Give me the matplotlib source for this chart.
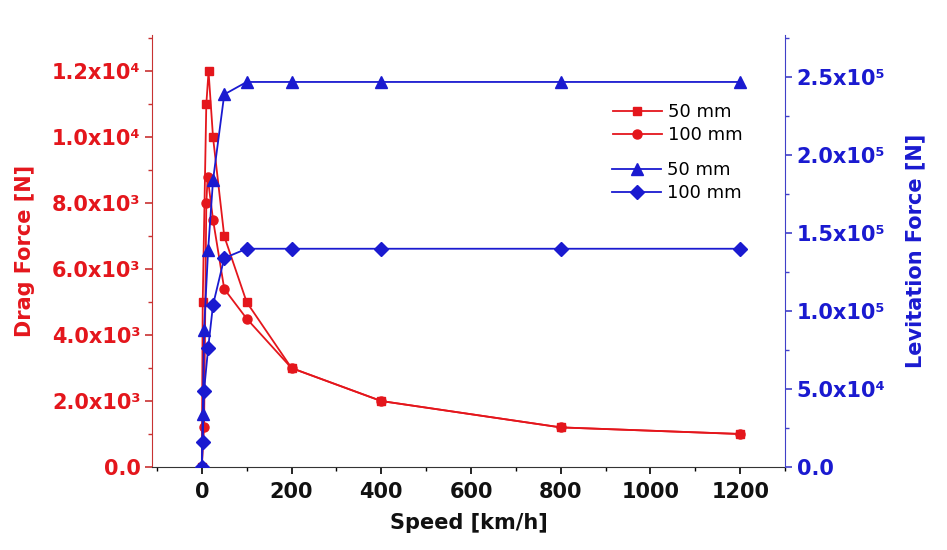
import matplotlib.pyplot as plt
from matplotlib.ticker import FixedLocator, MultipleLocator

plt.rcParams['font.family'] = ['DejaVu Sans']

# drag force data (left axis)
drag_speed_50 = [0, 2, 10, 15, 25, 50, 100, 200, 400, 800, 1200]
drag_50 = [0, 5000, 11000, 12000, 10000, 7000, 5000, 3000, 2000, 1200, 1000]
drag_speed_100 = [0, 5, 10, 13, 25, 50, 100, 200, 400, 800, 1200]
drag_100 = [0, 1200, 8000, 8800, 7500, 5400, 4500, 3000, 2000, 1200, 1000]

# levitation force data (right axis)
lev_speed_50 = [0, 2, 5, 14, 25, 50, 100, 200, 400, 800, 1200]
lev_50 = [0, 34000, 88000, 139000, 184000, 239000, 247000, 247000, 247000, 247000, 247000]
lev_speed_100 = [0, 2, 5, 14, 25, 50, 100, 200, 400, 800, 1200]
lev_100 = [0, 16000, 49000, 76000, 104000, 134000, 140000, 140000, 140000, 140000, 140000]

left_ticks = [0, 2000, 4000, 6000, 8000, 10000, 12000]
left_labels = ['0.0', '2.0x10³', '4.0x10³', '6.0x10³', '8.0x10³', '1.0x10⁴', '1.2x10⁴']
right_ticks = [0, 50000, 100000, 150000, 200000, 250000]
right_labels = ['0.0', '5.0x10⁴', '1.0x10⁵', '1.5x10⁵', '2.0x10⁵', '2.5x10⁵']
x_ticks = [0, 200, 400, 600, 800, 1000, 1200]

RED = '#e4161c'
BLUE = '#1a1ad0'

fig = plt.figure(figsize=(9.47, 5.5), dpi=100)
ax = fig.add_axes([0.161, 0.151, 0.668, 0.785])
ax2 = ax.twinx()

l1, = ax.plot(drag_speed_50, drag_50, color=RED, marker='s', markersize=6, lw=1.3, label='50 mm')
l2, = ax.plot(drag_speed_100, drag_100, color=RED, marker='o', markersize=6.5, lw=1.3, label='100 mm')
l3, = ax2.plot(lev_speed_50, lev_50, color=BLUE, marker='^', markersize=9, lw=1.3, label='50 mm')
l4, = ax2.plot(lev_speed_100, lev_100, color=BLUE, marker='D', markersize=7.5, lw=1.3, label='100 mm')

ax.set_xlim(-110, 1300)
ax.set_ylim(0, 13100)
ax2.set_ylim(0, 277000)

ax.xaxis.set_major_locator(FixedLocator(x_ticks))
ax.xaxis.set_minor_locator(MultipleLocator(100))
ax.set_xticklabels([str(v) for v in x_ticks], fontsize=15, fontweight='bold', color='#111111')

ax.yaxis.set_major_locator(FixedLocator(left_ticks))
ax.yaxis.set_minor_locator(MultipleLocator(1000))
ax.set_yticklabels(left_labels, fontsize=15, color=RED, fontweight='bold')

ax2.yaxis.set_major_locator(FixedLocator(right_ticks))
ax2.yaxis.set_minor_locator(MultipleLocator(25000))
ax2.set_yticklabels(right_labels, fontsize=15, color=BLUE, fontweight='bold')

for a in (ax, ax2):
    a.spines['top'].set_visible(False)
    a.tick_params(which='major', direction='out', length=5, width=1.2)
    a.tick_params(which='minor', direction='out', length=3, width=1)
ax.spines['left'].set_color('#c83232')
ax.spines['right'].set_visible(False)
ax2.spines['left'].set_visible(False)
ax2.spines['right'].set_color('#4040c8')
ax2.spines['bottom'].set_visible(False)
ax.spines['bottom'].set_color('#333333')
ax.tick_params(axis='x', which='major', pad=6)
ax.tick_params(axis='y', which='both', colors='#c83232', labelcolor=RED)
ax2.tick_params(axis='y', which='both', colors='#4040c8', labelcolor=BLUE)

ax.set_xlabel('Speed [km/h]', fontsize=15, fontweight='bold', color='#111111', labelpad=8)
ax.set_ylabel('Drag Force [N]', fontsize=15, fontweight='bold', color=RED, labelpad=12)
ax2.set_ylabel('Levitation Force [N]', fontsize=15, fontweight='bold', color=BLUE, labelpad=14)

leg1 = ax2.legend(handles=[l1, l2], loc='upper left', bbox_to_anchor=(0.728, 0.843),
                  frameon=False, fontsize=13, handlelength=2.7, labelspacing=0.3,
                  borderaxespad=0, borderpad=0, handletextpad=0.35)
ax2.add_artist(leg1)
ax2.legend(handles=[l3, l4], loc='upper left', bbox_to_anchor=(0.727, 0.709),
           frameon=False, fontsize=13, handlelength=2.7, labelspacing=0.3,
           borderaxespad=0, borderpad=0, handletextpad=0.35)

fig.savefig('out.png', dpi=100)
